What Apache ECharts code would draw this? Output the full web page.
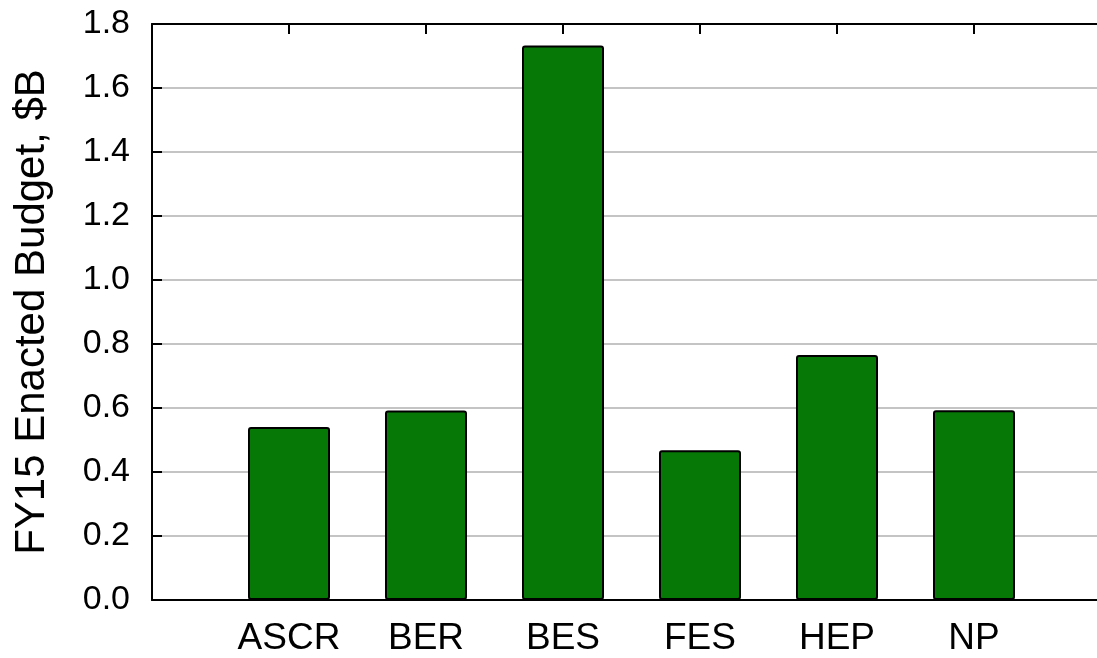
<!DOCTYPE html>
<html>
<head>
<meta charset="utf-8">
<script src="https://cdn.jsdelivr.net/npm/echarts@6/dist/echarts.min.js"></script>
<style>
html,body{margin:0;padding:0;background:#fff;}
#chart{width:1097px;height:658px;}
</style>
</head>
<body>
<div id="chart"></div>
<script>
// Data
var categories = ['ASCR', 'BER', 'BES', 'FES', 'HEP', 'NP'];
var budget = [0.541, 0.592, 1.733, 0.468, 0.766, 0.593];
var yTicks = [0.0, 0.2, 0.4, 0.6, 0.8, 1.0, 1.2, 1.4, 1.6, 1.8];
var yTitle = 'FY15 Enacted Budget, $B';

// Axis with an empty slot on each side (the reference shows the first slot empty)
var axisCats = [''].concat(categories).concat(['']);
var seriesData = [null].concat(budget).concat([null]);

var chart = echarts.init(document.getElementById('chart'), null, {renderer: 'canvas'});
var font = 'Liberation Sans, Arial, sans-serif';
chart.setOption({
  animation: false,
  backgroundColor: '#ffffff',
  grid: {left: 152, top: 24, height: 576, width: 959, containLabel: false, outerBoundsMode: 'none'},
  xAxis: [{
    type: 'category',
    data: axisCats,
    boundaryGap: false,
    position: 'bottom',
    axisLine: {show: true, lineStyle: {color: '#000', width: 2}},
    axisTick: {show: false},
    axisLabel: {color: '#000', fontSize: 37, fontFamily: font, margin: 20, interval: 0},
    splitLine: {show: false}
  }, {
    type: 'category',
    data: axisCats,
    boundaryGap: false,
    position: 'top',
    axisLine: {show: true, lineStyle: {color: '#000', width: 2}},
    axisTick: {show: true, inside: true, length: 10, lineStyle: {color: '#000', width: 2}, interval: 0},
    axisLabel: {show: false},
    splitLine: {show: false}
  }],
  yAxis: {
    type: 'value',
    min: yTicks[0],
    max: yTicks[yTicks.length - 1],
    interval: 0.2,
    name: yTitle,
    nameLocation: 'middle',
    nameRotate: 90,
    nameGap: 99,
    nameTextStyle: {color: '#000', fontSize: 42, fontFamily: font},
    axisLine: {show: true, lineStyle: {color: '#000', width: 2}},
    axisTick: {show: true, inside: true, length: 10, lineStyle: {color: '#000', width: 2}},
    axisLabel: {color: '#000', fontSize: 34, fontFamily: font, margin: 22,
      formatter: function (v) { return v.toFixed(1); }},
    splitLine: {show: true, lineStyle: {color: '#c4c4c4', width: 2}}
  },
  series: [{
    type: 'bar',
    data: seriesData,
    barWidth: 82,
    itemStyle: {color: '#067806', borderColor: '#000', borderWidth: 2, borderRadius: 2},
    z: 3
  }]
});
</script>
</body>
</html>
